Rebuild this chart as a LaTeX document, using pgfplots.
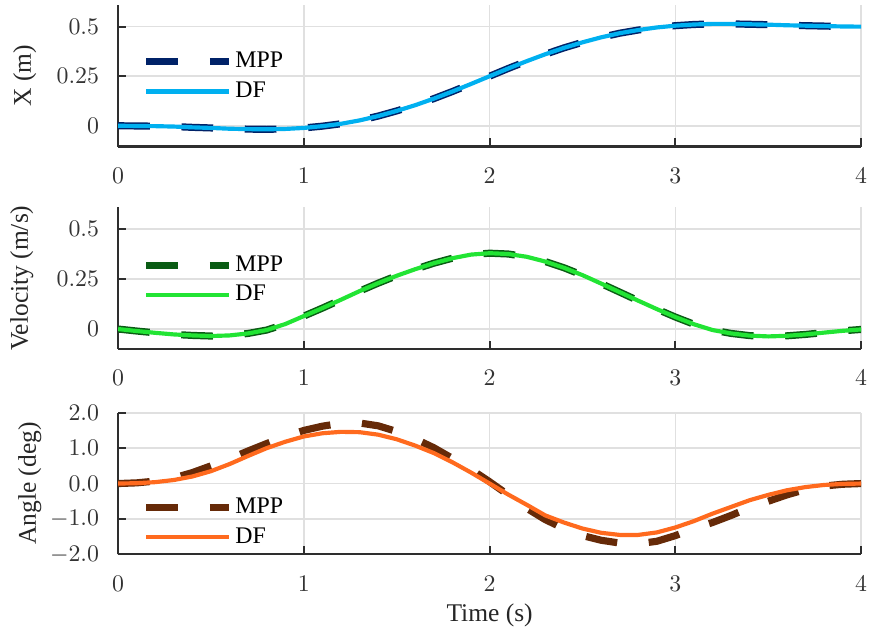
\documentclass[border=0pt]{standalone}
\usepackage{fontspec}
\setmainfont{Liberation Serif}
\usepackage{pgfplots}
\usepackage{pgfplotstable}
\pgfplotsset{compat=1.18}
\definecolor{navyc}{RGB}{0,34,104}
\definecolor{lbluec}{RGB}{0,176,240}
\definecolor{dgreenc}{RGB}{10,92,20}
\definecolor{bgreenc}{RGB}{34,228,52}
\definecolor{brownc}{RGB}{102,42,8}
\definecolor{orangec}{RGB}{255,106,30}

\pgfplotstableread{
t x
0.0 0.000
0.1 -0.001
0.2 -0.002
0.3 -0.004
0.4 -0.008
0.5 -0.011
0.6 -0.015
0.7 -0.017
0.8 -0.018
0.9 -0.016
1.0 -0.011
1.1 -0.002
1.2 0.010
1.3 0.027
1.4 0.049
1.5 0.075
1.6 0.104
1.7 0.137
1.8 0.173
1.9 0.211
2.0 0.250
2.1 0.289
2.2 0.326
2.3 0.361
2.4 0.393
2.5 0.421
2.6 0.446
2.7 0.467
2.8 0.483
2.9 0.496
3.0 0.505
3.1 0.511
3.2 0.514
3.3 0.514
3.4 0.512
3.5 0.510
3.6 0.507
3.7 0.505
3.8 0.503
3.9 0.501
4.0 0.500
}\posdata

\pgfplotstableread{
t v
0.0 0.000
0.1 -0.010
0.2 -0.019
0.3 -0.027
0.4 -0.032
0.5 -0.035
0.6 -0.032
0.7 -0.022
0.8 -0.005
0.9 0.025
1.0 0.065
1.1 0.105
1.2 0.147
1.3 0.190
1.4 0.230
1.5 0.267
1.6 0.300
1.7 0.330
1.8 0.355
1.9 0.373
2.0 0.380
2.1 0.376
2.2 0.362
2.3 0.338
2.4 0.307
2.5 0.270
2.6 0.228
2.7 0.185
2.8 0.142
2.9 0.100
3.0 0.060
3.1 0.024
3.2 -0.005
3.3 -0.022
3.4 -0.033
3.5 -0.037
3.6 -0.034
3.7 -0.027
3.8 -0.018
3.9 -0.009
4.0 -0.002
}\veldata

\pgfplotstableread{
t mpp df
0.0 0.00 0.00
0.1 0.02 0.01
0.2 0.07 0.04
0.3 0.16 0.10
0.4 0.31 0.20
0.5 0.50 0.35
0.6 0.70 0.55
0.7 0.92 0.78
0.8 1.13 1.00
0.9 1.33 1.18
1.0 1.50 1.33
1.1 1.62 1.42
1.2 1.70 1.46
1.3 1.71 1.45
1.4 1.63 1.38
1.5 1.47 1.25
1.6 1.26 1.07
1.7 1.01 0.86
1.8 0.71 0.60
1.9 0.40 0.31
2.0 0.05 0.00
2.1 -0.32 -0.31
2.2 -0.70 -0.60
2.3 -1.02 -0.90
2.4 -1.27 -1.10
2.5 -1.47 -1.27
2.6 -1.60 -1.39
2.7 -1.68 -1.45
2.8 -1.70 -1.45
2.9 -1.63 -1.38
3.0 -1.47 -1.24
3.1 -1.27 -1.06
3.2 -1.10 -0.85
3.3 -0.90 -0.66
3.4 -0.68 -0.47
3.5 -0.50 -0.32
3.6 -0.32 -0.19
3.7 -0.17 -0.10
3.8 -0.07 -0.04
3.9 -0.02 -0.01
4.0 0.00 0.00
}\angdata

\pgfplotsset{
  panel/.style={
    scale only axis, width=312pt, height=59.5pt,
    xmin=0, xmax=4, xtick={0,1,2,3,4},
    axis lines=left,
    axis line style={-, draw=black!82, line width=0.9pt},
    tick align=inside, major tick length=3.5pt,
    tick style={draw=black!82, line width=0.9pt},
    grid=major, major grid style={draw=black!12, line width=0.7pt},
    tick label style={text=black!80},
    xticklabel shift=5.5pt, yticklabel shift=4.5pt,
    label style={font=\fontsize{10.7}{13}\selectfont, text=black!85},
    legend style={draw=none, fill=none, inner xsep=0pt, inner ysep=0pt,
      font=\fontsize{10}{12}\selectfont,
      nodes={inner xsep=1.25pt, inner ysep=2.2pt}},
    legend cell align=left,
    legend image code/.code={\draw[##1] (0pt,0pt) -- (34.6pt,0pt);},
  },
  mpp/.style={line width=3pt, dash pattern=on 13.3pt off 13.3pt},
  dfs/.style={line width=1.75pt},
}

\begin{document}
\begin{tikzpicture}
\begin{axis}[panel, at={(0pt,171.25pt)},
  ymin=-0.105, ymax=0.61, ytick={0,0.25,0.5}, yticklabels={$0$,$0.25$,$0.5$},
  ylabel={X (m)},
  ylabel style={at={(axis description cs:-0.1256,0.5)}, anchor=center},
  legend style={at={(axis description cs:0.0327,0.493)}, anchor=west}]
\addplot[mpp, draw=navyc] table[x=t, y=x] {\posdata};
\addlegendentry{MPP}
\addplot[dfs, draw=lbluec] table[x=t, y=x] {\posdata};
\addlegendentry{DF}
\end{axis}
\begin{axis}[panel, at={(0pt,86.25pt)},
  ymin=-0.1, ymax=0.61, ytick={0,0.25,0.5}, yticklabels={$0$,$0.25$,$0.5$},
  ylabel={Velocity (m/s)},
  ylabel style={at={(axis description cs:-0.1295,0.5)}, anchor=center},
  legend style={at={(axis description cs:0.0327,0.486)}, anchor=west}]
\addplot[mpp, draw=dgreenc] table[x=t, y=v] {\veldata};
\addlegendentry{MPP}
\addplot[dfs, draw=bgreenc] table[x=t, y=v] {\veldata};
\addlegendentry{DF}
\end{axis}
\begin{axis}[panel, at={(0pt,0pt)},
  ymin=-2, ymax=2, ytick={-2,-1,0,1,2},
  yticklabel style={/pgf/number format/.cd, fixed, fixed zerofill, precision=1},
  ylabel={Angle (deg)},
  ylabel style={at={(axis description cs:-0.119,0.5)}, anchor=center},
  xlabel={Time (s)},
  xlabel style={at={(axis description cs:0.5,0)}, yshift=-25.4pt, anchor=center},
  legend style={at={(axis description cs:0.0327,0.225)}, anchor=west}]
\addplot[mpp, draw=brownc] table[x=t, y=mpp] {\angdata};
\addlegendentry{MPP}
\addplot[dfs, draw=orangec] table[x=t, y=df] {\angdata};
\addlegendentry{DF}
\end{axis}
\pgfresetboundingbox
\path[use as bounding box] (-49.6pt,-31.7pt) rectangle (315.3pt,232.8pt);
\end{tikzpicture}
\end{document}
